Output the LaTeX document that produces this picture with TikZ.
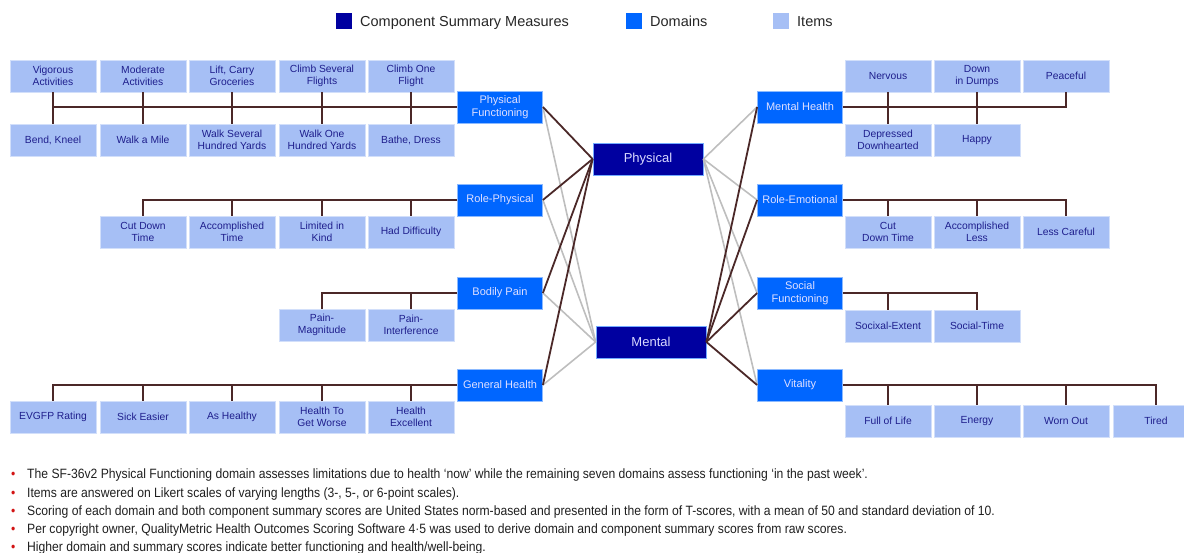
\documentclass[tikz,border=0pt]{standalone}
\usepackage{fontspec}
\setmainfont{Liberation Sans}
\newfontfamily\notefont[FakeStretch=0.9]{Liberation Sans}
\usetikzlibrary{positioning}
\definecolor{sumblue}{RGB}{0,0,160}
\definecolor{domblue}{RGB}{0,102,255}
\definecolor{itemblue}{RGB}{166,191,245}
\definecolor{itemtext}{RGB}{30,30,140}
\definecolor{linkbrown}{RGB}{75,40,40}
\definecolor{linkgrey}{RGB}{190,190,190}
\definecolor{notered}{RGB}{210,20,20}

\begin{document}
\begin{tikzpicture}[x=1pt,y=-1pt]
	\tikzset{
		itembox/.style={rectangle,fill=itemblue,draw=itemblue!50!white,line width=0.8pt,minimum width=86pt,minimum height=32pt,inner sep=0pt,align=center,text=itemtext,font=\fontsize{10.3}{12}\selectfont},
		domainbox/.style={rectangle,fill=domblue,draw=domblue!45!white,line width=0.8pt,minimum width=85pt,minimum height=32pt,inner sep=0pt,align=center,text=white!88!blue,font=\fontsize{11}{13}\selectfont},
		sumbox/.style={rectangle,fill=sumblue,draw=domblue!55!white,line width=0.8pt,minimum width=110pt,minimum height=32pt,inner sep=0pt,align=center,text=white!85!blue,font=\fontsize{13}{15}\selectfont},
		darkline/.style={draw=linkbrown,line width=1.8pt},
		greyline/.style={draw=linkgrey,line width=1.6pt},
		keybox/.style={rectangle,minimum size=16pt,inner sep=0pt},
		keytext/.style={anchor=base west,inner sep=0pt,text=black!85,font=\fontsize{14.5}{16}\selectfont},
		notetext/.style={anchor=base west,inner sep=0pt,text=black!88,font=\notefont\fontsize{13.5}{15}\selectfont}
	}
	\useasboundingbox (0,0) rectangle (1184,552);

	\node[keybox,fill=sumblue] (keysum) at (344,21) {};
	\node[keytext] (keysumtext) at (360,26) {Component Summary Measures};
	\node[keybox,fill=domblue] (keydom) at (634,21) {};
	\node[keytext] (keydomtext) at (650,26) {Domains};
	\node[keybox,fill=itemblue] (keyitem) at (781,21) {};
	\node[keytext] (keyitemtext) at (797,26) {Items};

	\node[sumbox] (phys) at (648,159) {Physical};
	\node[sumbox] (ment) at (651,342) {Mental};

	\node[domainbox] (pf) at (500,107) {Physical\\Functioning};
	\node[domainbox] (rp) at (500,200) {Role-Physical};
	\node[domainbox] (bp) at (500,293) {Bodily Pain};
	\node[domainbox] (gh) at (500,385) {General Health};
	\node[domainbox] (mh) at (800,107) {Mental Health};
	\node[domainbox] (re) at (800,200) {Role-Emotional};
	\node[domainbox] (sf) at (800,293) {Social\\Functioning};
	\node[domainbox] (vt) at (800,385) {Vitality};

	\node[itembox] (vig) at (53,76) {Vigorous\\Activities};
	\node[itembox] (mod) at (143,76) {Moderate\\Activities};
	\node[itembox] (lift) at (232,76) {Lift, Carry\\Groceries};
	\node[itembox] (climbsev) at (322,76) {Climb Several\\Flights};
	\node[itembox] (climbone) at (411,76) {Climb One\\Flight};
	\node[itembox] (bend) at (53,140) {Bend, Kneel};
	\node[itembox] (walkmile) at (143,140) {Walk a Mile};
	\node[itembox] (walksev) at (232,140) {Walk Several\\Hundred Yards};
	\node[itembox] (walkone) at (322,140) {Walk One\\Hundred Yards};
	\node[itembox] (bathe) at (411,140) {Bathe, Dress};

	\node[itembox] (cutdown) at (143,232) {Cut Down\\Time};
	\node[itembox] (accomp) at (232,232) {Accomplished\\Time};
	\node[itembox] (limited) at (322,232) {Limited in\\Kind};
	\node[itembox] (difficulty) at (411,232) {Had Difficulty};

	\node[itembox] (painmag) at (322,325) {Pain-\\Magnitude};
	\node[itembox] (paininter) at (411,325) {Pain-\\Interference};

	\node[itembox] (evgfp) at (53,417) {EVGFP Rating};
	\node[itembox] (sick) at (143,417) {Sick Easier};
	\node[itembox] (ashealthy) at (232,417) {As Healthy};
	\node[itembox] (worse) at (322,417) {Health To\\Get Worse};
	\node[itembox] (excellent) at (411,417) {Health\\Excellent};

	\node[itembox] (nervous) at (888,76) {Nervous};
	\node[itembox] (dumps) at (977,76) {Down\\in Dumps};
	\node[itembox] (peaceful) at (1066,76) {Peaceful};
	\node[itembox] (depressed) at (888,140) {Depressed\\Downhearted};
	\node[itembox] (happy) at (977,140) {Happy};

	\node[itembox] (ecutdown) at (888,232) {Cut\\Down Time};
	\node[itembox] (eaccomp) at (977,232) {Accomplished\\Less};
	\node[itembox] (careful) at (1066,232) {Less Careful};

	\node[itembox] (socext) at (888,326) {Socixal-Extent};
	\node[itembox] (soctime) at (977,326) {Social-Time};

	\node[itembox] (fulllife) at (888,421) {Full of Life};
	\node[itembox] (energy) at (977,421) {Energy};
	\node[itembox] (wornout) at (1066,421) {Worn Out};
	\node[itembox] (tired) at (1156,421) {Tired};

	\draw[darkline] (pf.west) -- (pf.west -| vig.south);
	\draw[darkline] (vig.south) -- (bend.north);
	\draw[darkline] (mod.south) -- (walkmile.north);
	\draw[darkline] (lift.south) -- (walksev.north);
	\draw[darkline] (climbsev.south) -- (walkone.north);
	\draw[darkline] (climbone.south) -- (bathe.north);

	\draw[darkline] (rp.west) -| (cutdown.north);
	\draw[darkline] (accomp.north) -- (accomp.north |- rp.west);
	\draw[darkline] (limited.north) -- (limited.north |- rp.west);
	\draw[darkline] (difficulty.north) -- (difficulty.north |- rp.west);

	\draw[darkline] (bp.west) -| (painmag.north);
	\draw[darkline] (paininter.north) -- (paininter.north |- bp.west);

	\draw[darkline] (gh.west) -| (evgfp.north);
	\draw[darkline] (sick.north) -- (sick.north |- gh.west);
	\draw[darkline] (ashealthy.north) -- (ashealthy.north |- gh.west);
	\draw[darkline] (worse.north) -- (worse.north |- gh.west);
	\draw[darkline] (excellent.north) -- (excellent.north |- gh.west);

	\draw[darkline] (mh.east) -| (peaceful.south);
	\draw[darkline] (nervous.south) -- (depressed.north);
	\draw[darkline] (dumps.south) -- (happy.north);

	\draw[darkline] (re.east) -| (careful.north);
	\draw[darkline] (ecutdown.north) -- (ecutdown.north |- re.east);
	\draw[darkline] (eaccomp.north) -- (eaccomp.north |- re.east);

	\draw[darkline] (sf.east) -| (soctime.north);
	\draw[darkline] (socext.north) -- (socext.north |- sf.east);

	\draw[darkline] (vt.east) -| (tired.north);
	\draw[darkline] (fulllife.north) -- (fulllife.north |- vt.east);
	\draw[darkline] (energy.north) -- (energy.north |- vt.east);
	\draw[darkline] (wornout.north) -- (wornout.north |- vt.east);

	\draw[greyline] (pf.east) -- (ment.west);
	\draw[greyline] (rp.east) -- (ment.west);
	\draw[greyline] (bp.east) -- (ment.west);
	\draw[greyline] (gh.east) -- (ment.west);
	\draw[greyline] (mh.west) -- (phys.east);
	\draw[greyline] (re.west) -- (phys.east);
	\draw[greyline] (sf.west) -- (phys.east);
	\draw[greyline] (vt.west) -- (phys.east);

	\draw[darkline] (pf.east) -- (phys.west);
	\draw[darkline] (rp.east) -- (phys.west);
	\draw[darkline] (bp.east) -- (phys.west);
	\draw[darkline] (gh.east) -- (phys.west);
	\draw[darkline] (mh.west) -- (ment.east);
	\draw[darkline] (re.west) -- (ment.east);
	\draw[darkline] (sf.west) -- (ment.east);
	\draw[darkline] (vt.west) -- (ment.east);

	\node[notetext,text=notered] (dot1) at (11,478) {\textbullet};
	\node[notetext] (note1) at (27,478) {The SF-36v2 Physical Functioning domain assesses limitations due to health ‘now’ while the remaining seven domains assess functioning ‘in the past week’.};
	\node[notetext,text=notered] (dot2) at (11,497) {\textbullet};
	\node[notetext] (note2) at (27,497) {Items are answered on Likert scales of varying lengths (3-, 5-, or 6-point scales).};
	\node[notetext,text=notered] (dot3) at (11,515) {\textbullet};
	\node[notetext] (note3) at (27,515) {Scoring of each domain and both component summary scores are United States norm-based and presented in the form of T-scores, with a mean of 50 and standard deviation of 10.};
	\node[notetext,text=notered] (dot4) at (11,533) {\textbullet};
	\node[notetext] (note4) at (27,533) {Per copyright owner, QualityMetric Health Outcomes Scoring Software 4·5 was used to derive domain and component summary scores from raw scores.};
	\node[notetext,text=notered] (dot5) at (11,551) {\textbullet};
	\node[notetext] (note5) at (27,551) {Higher domain and summary scores indicate better functioning and health/well-being.};
\end{tikzpicture}
\end{document}
